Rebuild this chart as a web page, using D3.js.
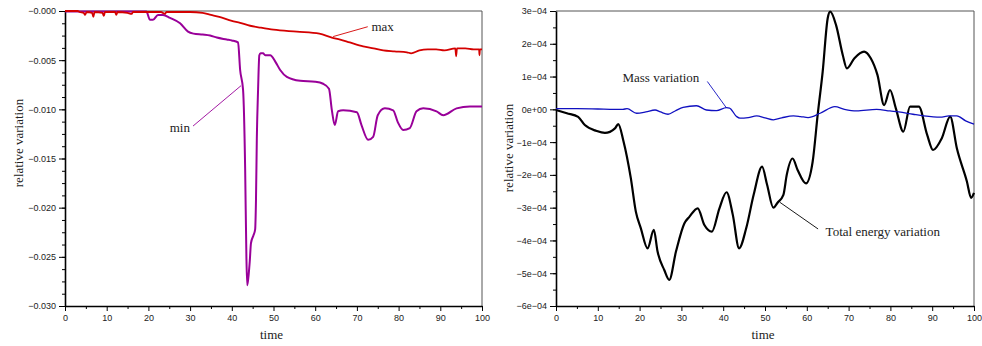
<!DOCTYPE html>
<html>
<head>
<meta charset="utf-8">
<script src="https://cdn.jsdelivr.net/npm/d3@7"></script>
<style>
  body { margin: 0; background: #fff; }
  svg { display: block; }
  .tick text { font-family: "Liberation Sans", Arial, sans-serif; font-size: 9px; fill: #222; }
  .lbl { font-family: "Liberation Serif", "Times New Roman", serif; font-size: 13px; fill: #222; }
</style>
</head>
<body>
<svg id="chart" width="982" height="346"></svg>
<script>
"use strict";

// ---- left panel: min / max relative variation ----
var maxTime = [0, 3, 3.5, 4.5, 4.8, 5.2, 6.5, 6.8, 7.1, 9, 9.3, 9.6, 12, 12.3, 12.6, 15, 16, 16.3, 20, 23, 24, 24.3,
  28, 30, 33, 35, 37, 40, 42, 44.4, 47, 50, 55.6, 61, 64, 66, 68.3, 71.5, 74, 76.3, 79, 82, 83, 85, 87, 89, 91,
  93.6, 93.8, 94, 96, 98, 99.3, 99.4, 99.5, 100];
var maxValue = [0, 0, -0.0001, -0.0002, -0.0004, -0.0001, -0.0002, -0.0006, -0.0001, -0.0002, -0.0005, -0.0001,
  -0.0001, -0.0004, -0.0001, -0.0002, -0.0003, -0.0001, -0.0001, -0.0001, -0.0003, -0.0001,
  -0.0001, -0.0001, -0.0002, -0.0004, -0.0006, -0.0010, -0.0012, -0.0015, -0.0017, -0.0019, -0.0021, -0.0023,
  -0.0027, -0.0029, -0.0032, -0.0036, -0.0038, -0.0040, -0.0041, -0.0042, -0.0043, -0.0040, -0.0039, -0.0039,
  -0.0040, -0.0038, -0.0046, -0.0038, -0.0038, -0.0039, -0.0039, -0.0045, -0.0039, -0.0039];

var minTime = [0, 19.5, 20.4, 21.1, 22.3, 23.5, 25.2, 27.6, 29.5, 30.8, 33, 34.8, 36.4, 38.8, 40, 41.5, 42, 42.7,
  43.2, 43.5, 43.7, 44.0, 44.3, 44.6, 45.2, 45.6, 45.8, 46.0, 46.3, 46.6, 46.9, 47.5, 48, 49.2, 50.5, 51.6, 53.2,
  56.4, 60, 61.9, 63.3, 64, 64.7, 65.5, 66.7, 70, 71.1, 72.7, 73.9, 75, 76.7, 78.7, 79.8, 81.1, 82.7, 84.3, 85.9,
  89.1, 90.7, 93.9, 97.1, 100];
var minValue = [-0.00005, -0.00005, -0.0009, -0.0009, -0.0004, -0.0004, -0.0007, -0.00125, -0.0021, -0.0023,
  -0.0024, -0.0025, -0.0027, -0.0029, -0.0030, -0.0032, -0.0060, -0.0080,
  -0.0160, -0.0250, -0.0279, -0.0270, -0.0255, -0.0236, -0.0228, -0.0222, -0.0192, -0.0130, -0.0080, -0.0045,
  -0.0043, -0.0043, -0.0045, -0.0045, -0.0052, -0.0060, -0.0067,
  -0.0071, -0.0072, -0.0074, -0.0079, -0.0101, -0.0116, -0.0102, -0.0101, -0.0103, -0.0116, -0.0131, -0.0128,
  -0.0106, -0.0099, -0.0101, -0.0113, -0.0121, -0.0119, -0.0102, -0.0099,
  -0.0102, -0.0106, -0.0099, -0.0097, -0.0097];

var leftTicks = [0, -0.005, -0.010, -0.015, -0.020, -0.025, -0.030];
var leftTickLabels = ["\u22120.000", "\u22120.005", "\u22120.010", "\u22120.015", "\u22120.020", "\u22120.025", "\u22120.030"];

// ---- right panel: mass and total energy variation ----
var massTime = [0, 5, 10, 14, 16, 17, 19.3, 21.5, 23.7, 25, 26.8, 28.5, 30.4, 33.6, 36, 38.4, 40.8, 41.5, 43.2, 44,
  46, 48, 50, 52, 54, 56.8, 58.5, 60.3, 63.2, 66.7, 69, 71.9, 76.7, 79.9, 82, 85.4, 88, 91.9, 94, 95.9, 98, 100];
var massValue = [0.02e-4, 0.02e-4, 0.01e-4, 0, 0, 0.02e-4, -0.12e-4, -0.08e-4, -0.02e-4, -0.08e-4, -0.15e-4,
  -0.05e-4, 0.06e-4, 0.11e-4, -0.02e-4, -0.04e-4, 0.05e-4, 0.04e-4, -0.22e-4, -0.27e-4,
  -0.25e-4, -0.2e-4, -0.26e-4, -0.32e-4, -0.26e-4, -0.2e-4, -0.22e-4, -0.25e-4, -0.12e-4, 0.08e-4, 0, -0.05e-4,
  0, -0.05e-4, -0.08e-4, -0.15e-4, -0.2e-4, -0.24e-4, -0.2e-4, -0.2e-4, -0.35e-4, -0.45e-4];

var energyTime = [0, 2.6, 5.3, 6.9, 9.7, 11.7, 14.1, 14.9, 16.1, 17.9, 19.1, 20.3, 21.9, 23.4, 24.3, 25.9, 27.1,
  28.7, 30.7, 31.9, 33.9, 35.5, 37.3, 39.1, 40.8, 42.3, 43.8, 45.5, 47.3, 49.3, 50.5, 52, 53, 54.4, 55.2, 56.6,
  57.8, 59.8, 61.4, 62.6, 63.8, 65, 65.6, 67, 68.6, 69.6, 71.4, 73.7, 75.3, 76.9, 78.5, 79.9, 81.3, 83.1, 84.7,
  86.8, 88.8, 90.2, 92.3, 94.3, 95.9, 98.3, 99.3, 100];
var energyValue = [-0.02e-4, -0.12e-4, -0.23e-4, -0.48e-4, -0.66e-4, -0.72e-4, -0.58e-4, -0.45e-4, -0.95e-4,
  -2.1e-4, -3.12e-4, -3.63e-4, -4.24e-4, -3.68e-4, -4.34e-4, -4.9e-4, -5.2e-4,
  -4.34e-4, -3.48e-4, -3.28e-4, -3.02e-4, -3.53e-4, -3.73e-4, -3.02e-4, -2.53e-4, -3.22e-4, -4.24e-4, -3.63e-4,
  -2.6e-4, -1.75e-4, -2.3e-4, -3.0e-4, -2.85e-4, -2.61e-4, -2.0e-4, -1.5e-4,
  -1.85e-4, -2.26e-4, -1.6e-4, -0.17e-4, 1.15e-4, 2.78e-4, 2.98e-4, 2.57e-4, 1.66e-4, 1.25e-4, 1.56e-4, 1.76e-4,
  1.56e-4, 1.05e-4, 0.13e-4, 0.59e-4, 0.03e-4, -0.68e-4, 0.08e-4,
  0.08e-4, -0.78e-4, -1.24e-4, -0.88e-4, -0.22e-4, -1.19e-4, -2.2e-4, -2.7e-4, -2.55e-4];

var rightTicks = [3e-4, 2e-4, 1e-4, 0, -1e-4, -2e-4, -3e-4, -4e-4, -5e-4, -6e-4];
var rightTickLabels = ["3e\u221204", "2e\u221204", "1e\u221204", "0e+00", "\u22121e\u221204", "\u22122e\u221204",
  "\u22123e\u221204", "\u22124e\u221204", "\u22125e\u221204", "\u22126e\u221204"];

var timeTicks = [0, 10, 20, 30, 40, 50, 60, 70, 80, 90, 100];

var svg = d3.select("#chart");

function zip(ts, vs) {
  return ts.map(function(t, i) { return [t, vs[i]]; });
}

function panel(opts) {
  var x = d3.scaleLinear().domain([0, 100]).range([opts.left, opts.right]);
  var y = d3.scaleLinear().domain(opts.ydomain).range([opts.bottom, opts.top]);
  var g = svg.append("g");

  // frame on top and right
  g.append("path")
    .attr("d", "M" + opts.left + "," + opts.top + "H" + opts.right + "V" + opts.bottom)
    .attr("fill", "none").attr("stroke", "#555").attr("stroke-width", 1);

  // minor ticks first, then the labelled axis
  g.append("g").attr("transform", "translate(0," + opts.bottom + ")")
    .call(d3.axisBottom(x).tickValues(d3.range(5, 100, 10)).tickSize(3).tickFormat("").tickSizeOuter(0))
    .call(function(s) { s.select(".domain").remove(); });
  g.append("g").attr("transform", "translate(0," + opts.bottom + ")")
    .call(d3.axisBottom(x).tickValues(timeTicks).tickSize(5).tickPadding(4).tickSizeOuter(0))
    .call(function(s) { s.select(".domain").attr("stroke-width", 1.6); });

  g.append("g").attr("transform", "translate(" + opts.left + ",0)")
    .call(d3.axisLeft(y).tickValues(opts.minor).tickSize(3).tickFormat("").tickSizeOuter(0))
    .call(function(s) { s.select(".domain").remove(); });
  g.append("g").attr("transform", "translate(" + opts.left + ",0)")
    .call(d3.axisLeft(y).tickValues(opts.ticks).tickSize(6).tickPadding(3).tickSizeOuter(0)
      .tickFormat(function(d, i) { return opts.tickLabels[i]; }))
    .call(function(s) { s.select(".domain").attr("stroke-width", 1.6); });

  // monotone keeps the sharp drops but rounds the corners a bit
  var line = d3.line()
    .curve(d3.curveMonotoneX)
    .x(function(d) { return x(d[0]); })
    .y(function(d) { return y(d[1]); });

  opts.series.forEach(function(s) {
    g.append("path")
      .datum(s.data)
      .attr("d", line)
      .attr("fill", "none")
      .attr("stroke", s.color)
      .attr("stroke-width", s.width)
      .attr("stroke-linejoin", "round");
  });

  // annotations: label + leader line
  opts.notes.forEach(function(n) {
    g.append("line")
      .attr("x1", x(n.from[0])).attr("y1", y(n.from[1]))
      .attr("x2", x(n.to[0])).attr("y2", y(n.to[1]))
      .attr("stroke", n.color).attr("stroke-width", 0.9);
    g.append("text").attr("class", "lbl")
      .attr("x", x(n.at[0])).attr("y", y(n.at[1]))
      .text(n.text);
  });

  g.append("text").attr("class", "lbl")
    .attr("text-anchor", "middle")
    .attr("x", (opts.left + opts.right) / 2 - 2).attr("y", 339)
    .text("time");
  g.append("text").attr("class", "lbl")
    .attr("text-anchor", "middle")
    .attr("transform", "translate(" + opts.ylabelX + "," + opts.ylabelY + ") rotate(-90)")
    .text("relative variation");
}

panel({
  left: 65, right: 482, top: 11, bottom: 306,
  ydomain: [-0.030, 0],
  ticks: leftTicks,
  tickLabels: leftTickLabels,
  minor: d3.range(0, 25).map(function(i) { return -0.00125 * i; }),
  ylabelX: 23, ylabelY: 143,
  series: [
    {data: zip(minTime, minValue), color: "#990099", width: 2},
    {data: zip(maxTime, maxValue), color: "#d40000", width: 1.8}
  ],
  notes: [
    {text: "min", at: [25.1, -0.0123], from: [30.7, -0.0117], to: [42.2, -0.0076], color: "#990099"},
    {text: "max", at: [73.5, -0.0020], from: [72.6, -0.0016], to: [64.3, -0.0026], color: "#d40000"}
  ]
});

panel({
  left: 556, right: 974, top: 11, bottom: 306,
  ydomain: [-6e-4, 3e-4],
  ticks: rightTicks,
  tickLabels: rightTickLabels,
  minor: d3.range(0, 19).map(function(i) { return 3e-4 - 0.5e-4 * i; }),
  ylabelX: 513, ylabelY: 148,
  series: [
    {data: zip(energyTime, energyValue), color: "#000000", width: 2.2},
    {data: zip(massTime, massValue), color: "#1010c0", width: 1.3}
  ],
  notes: [
    {text: "Mass variation", at: [15.9, 0.83e-4], from: [36.2, 0.85e-4], to: [40.8, 0.04e-4], color: "#1010c0"},
    {text: "Total energy variation", at: [64.5, -3.87e-4], from: [53.6, -2.84e-4], to: [62.7, -3.65e-4], color: "#000000"}
  ]
});
</script>
</body>
</html>
